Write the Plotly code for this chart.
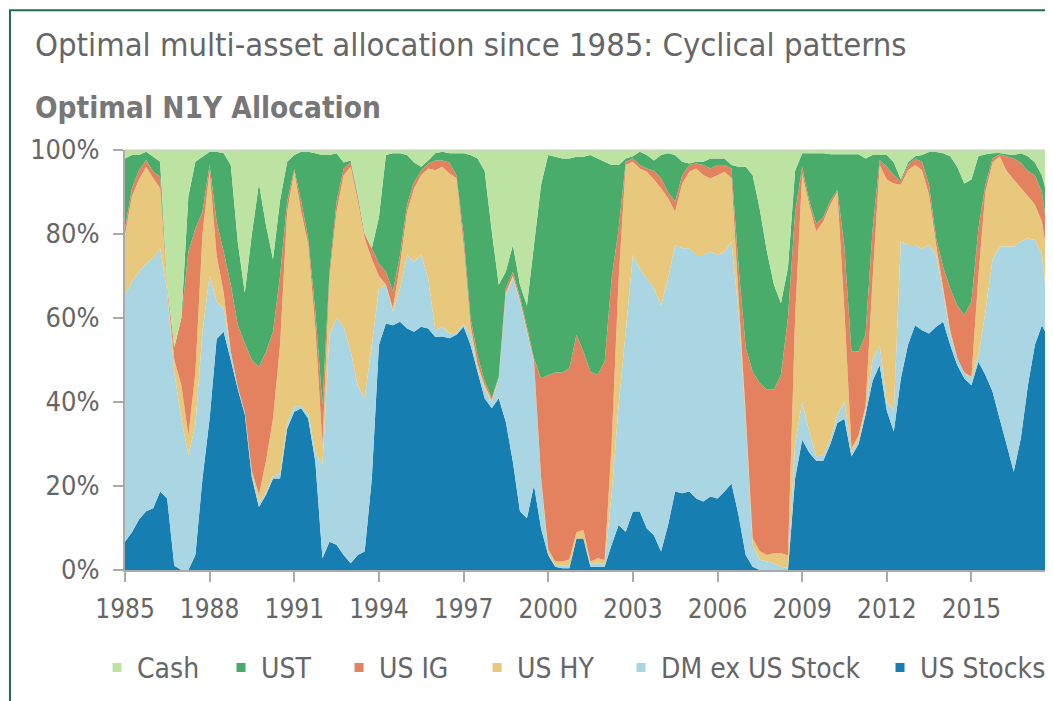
import plotly.graph_objects as go
import pandas as pd

# Quarterly grid 1985Q1 .. 2017Q4
dates = pd.date_range("1985-01-01", "2017-10-01", freq="QS")

tick_years = [1985, 1988, 1991, 1994, 1997, 2000, 2003, 2006, 2009, 2012, 2015]
y_ticks = [0, 20, 40, 60, 80, 100]

# Cumulative tops (percent), bottom layer first
us_stocks_top = [
    6.7, 9, 12, 14,
    14.7, 18.7, 17, 1,
    0, 0, 3.6, 21.8,
    36, 55, 56.7, 50,
    43, 37, 22, 15,
    17.9, 21.8, 21.8, 33.7,
    37.7, 38.5, 36, 25.8,
    2.8, 6.7, 6, 3.6,
    1.6, 3.6, 4.4, 21.8,
    53.6, 58.7, 58.3, 59.1,
    57.5, 56.7, 57.9, 57.5,
    55.5, 55.6, 55.2, 56,
    57.9, 53.6, 47.2, 40.9,
    38.5, 40.9, 35.3, 25.8,
    13.9, 12.3, 20.2, 9.9,
    3.6, 0.8, 0.4, 0.4,
    7.5, 7.5, 0.8, 0.8,
    0.8, 6, 10.7, 9.1,
    13.9, 13.9, 9.9, 8.3,
    4.4, 10.7, 18.7, 18.3,
    18.7, 17, 16.3, 17.5,
    17, 18.7, 20.6, 13,
    3.6, 0.8, 0, 0,
    0, 0, 0, 21.8,
    31, 28, 26, 26,
    30, 35, 36, 27,
    30, 37, 45, 48.8,
    38, 33, 45.6, 53.6,
    58.3, 57.1, 56.3, 57.9,
    59.1, 53.6, 48.8, 45.6,
    44, 49.6, 46.4, 42.5,
    36, 29.8, 23.4, 31.3,
    44, 53.6, 58.3, 55,
]
dm_top = [
    65.5, 68.7, 71, 73,
    74.2, 76.6, 66.3, 47,
    36, 27.4, 34.5, 56.7,
    70.2, 63.9, 62.3, 52,
    43.5, 37.5, 23, 16,
    18.5, 22.5, 23, 35,
    39, 39, 37, 28,
    25, 56, 60, 58,
    52, 44, 40.9, 53.6,
    67, 67.9, 61.5, 67,
    75, 73.4, 75, 69.4,
    57, 58, 56.3, 56.5,
    58.5, 56, 48, 43,
    40, 45.6, 65.5, 69.4,
    63.9, 56.7, 49.6, 21.8,
    4, 1, 1, 1,
    7.5, 7.5, 1.5, 1.5,
    1.5, 17.9, 39.3, 56.7,
    75, 71.7, 69.4, 67,
    63, 69.4, 77.4, 76.6,
    76.6, 75, 75, 75.8,
    75, 75.8, 78.2, 61,
    36, 6, 2.5, 2,
    1.6, 0.8, 0.5, 30,
    40, 33, 27, 27.4,
    31, 37, 40, 28,
    31, 38, 50, 53.6,
    40, 38, 78.2, 77.4,
    77.4, 76.5, 77.4, 75,
    66, 56, 50.5, 47,
    45.5, 51, 61.5, 73.9,
    77, 77, 77, 78.2,
    79, 78.6, 75, 60,
]
us_hy_top = [
    79.8, 89, 92.9, 96,
    93.3, 90.9, 67, 50,
    44, 32, 47, 80,
    95, 75, 66, 52,
    43.5, 37.5, 23.5, 18,
    26, 36, 53.6, 85.3,
    94.8, 85.3, 77.4, 57.5,
    29.8, 69.4, 85.3, 94,
    96, 88, 79, 74,
    70, 68, 62.3, 72.6,
    85.3, 90.9, 94, 95.6,
    95.2, 96, 94.4, 93.3,
    77.4, 58.3, 49, 44,
    40.5, 45.8, 66, 70,
    64.2, 57, 49.8, 22,
    5, 2, 2, 2.5,
    9, 9.5, 2, 2.8,
    2.4, 29.8, 69.4, 96.4,
    97.2, 95.6, 94.8, 93,
    90.9, 88.5, 85.3, 92,
    94.8, 95.6, 94, 93.3,
    94, 94.8, 93.3, 65,
    37, 7.5, 4.5, 3.6,
    4, 4, 3.5, 60,
    94.4, 87, 80.6, 83,
    87, 90, 62, 29,
    32, 39, 69, 96.4,
    93, 92, 91.7, 95.2,
    96.4, 95.2, 89.3, 77.4,
    67, 57, 50.5, 47,
    46, 70, 90, 97,
    98.5, 95, 93, 91,
    89, 87, 83, 72,
]
us_ig_top = [
    81.3, 90.9, 95.2, 97.6,
    94.8, 93.7, 67.9, 53,
    60, 75.8, 81.3, 85.3,
    96.5, 83, 75.8, 67.9,
    58.3, 54, 50, 48.4,
    52, 56.7, 70, 87.7,
    95.5, 87.7, 79, 61.5,
    39.3, 71, 87.7, 95.6,
    97, 89, 80, 76.6,
    73, 71, 66.3, 75,
    87, 92.4, 95, 96.8,
    97.5, 97.5, 97, 94,
    79.8, 60, 51, 45,
    41, 46, 67, 71,
    65, 58, 50.4, 45.6,
    46.4, 47, 47, 48,
    56, 52, 47.2, 46.4,
    49.6, 69.4, 81.3, 97.2,
    98, 96.4, 95.6, 95,
    93.3, 90, 87.7, 94,
    96.4, 96.8, 96.4, 95.6,
    96.4, 96.4, 95.6, 72,
    53, 47.2, 44.5, 43,
    43, 46.5, 60, 85,
    96, 88, 82.5, 84,
    88, 90.5, 77, 52,
    52, 56, 81, 97.6,
    96, 94, 92.5, 96.4,
    98, 97.2, 91.7, 79,
    72, 67, 63, 60.7,
    63.9, 81.3, 91.7, 98,
    99, 98.5, 98, 97,
    95, 94, 90, 78,
]
ust_top = [
    98, 98.8, 98.8, 99.6,
    98.4, 97.2, 67.9, 53,
    60, 89, 97.2, 98.4,
    99.6, 99.6, 99.2, 96.4,
    78, 66, 80, 92,
    82, 74, 88, 97.2,
    98.8, 99.6, 99.6, 99.2,
    98.8, 98.8, 99.2, 97,
    97.5, 89.5, 80, 76.6,
    84, 98.8, 99.2, 99.2,
    98.8, 97, 96, 97.5,
    99.2, 99.6, 99.2, 99.2,
    99.2, 98.8, 98, 95,
    80.6, 68, 71, 77.4,
    67.9, 63, 77.4, 91.7,
    98.8, 98.4, 98, 98,
    98.4, 98.4, 98.8, 98,
    97.2, 96.4, 96.4, 98,
    98.5, 99.6, 98.8, 97.5,
    98.8, 99.2, 98.8, 97.2,
    96.8, 97.2, 97.2, 98,
    98, 98, 96.4, 96,
    96, 94, 86, 76,
    68, 63.5, 72, 95,
    99.2, 99.2, 99.2, 99.2,
    99, 99, 99, 99,
    99, 98, 98.8, 98.8,
    98.8, 97, 93, 97,
    98.5, 98.8, 99.5, 99.5,
    99.2, 98.5, 96, 92,
    93, 98.5, 99, 99.2,
    99.3, 99, 98.8, 99.2,
    98.5, 97, 94, 87.5,
]
cash_top = [100] * len(dates)

# bottom layer first
series = [
    ("US Stocks", us_stocks_top, "#167eb1"),
    ("DM ex US Stock", dm_top, "#a9d6e2"),
    ("US HY", us_hy_top, "#e8c87d"),
    ("US IG", us_ig_top, "#e4825f"),
    ("UST", ust_top, "#4aac6a"),
    ("Cash", cash_top, "#bde3a2"),
]

FONT = "DejaVu Sans Condensed, Liberation Sans Narrow, sans-serif"

# one legend box per key, left-to-right: Cash ... US Stocks
legend_names = ["legend", "legend2", "legend3", "legend4", "legend5", "legend6"]
legend_x = [-0.0303, 0.1039, 0.2316, 0.3810, 0.5368, 0.8171]

fig = go.Figure()
# Square legend keys (no data), linked to the areas via legendgroup
for (name, _, color), lg in zip(reversed(series), legend_names):
    fig.add_trace(go.Scatter(
        x=[None], y=[None], name=name, mode="markers",
        marker=dict(symbol="square", size=9, color=color),
        legendgroup=name, legend=lg, showlegend=True, hoverinfo="skip",
    ))
# Filled areas between cumulative tops
for i, (name, vals, color) in enumerate(series):
    fig.add_trace(go.Scatter(
        x=dates, y=vals, name=name, mode="none",
        fill="tozeroy" if i == 0 else "tonexty",
        fillcolor=color, hoverinfo="x+y+name",
        legendgroup=name, showlegend=False,
    ))

legend_layout = {
    lg: dict(orientation="h", x=lx, xanchor="left", y=-0.233, yanchor="middle",
             font=dict(size=28, color="#666666", family=FONT),
             bgcolor="rgba(0,0,0,0)", itemwidth=30)
    for lg, lx in zip(legend_names, legend_x)
}

# Page has an 8px body margin: figure is drawn at (8, 8)
fig.update_layout(
    width=1045, height=693,
    margin=dict(l=117, r=4, t=142, b=131, autoexpand=False),
    paper_bgcolor="white", plot_bgcolor="white",
    font=dict(family=FONT, color="#666666", size=26),
    showlegend=True,
    xaxis=dict(
        type="date", range=[dates[0], dates[-1]],
        tickvals=[pd.Timestamp(f"{y}-01-01") for y in tick_years],
        ticktext=[str(y) for y in tick_years],
        ticks="outside", ticklen=10, tickwidth=2, tickcolor="#aaaaaa",
        showline=True, linecolor="#aaaaaa", linewidth=2,
        showgrid=False, zeroline=False, ticklabelstandoff=5,
        tickfont=dict(size=26, color="#666666"), automargin=False,
    ),
    yaxis=dict(
        range=[0, 100], tickvals=y_ticks, ticktext=[f"{v}%" for v in y_ticks],
        ticks="outside", ticklen=10, tickwidth=2, tickcolor="#aaaaaa",
        showline=True, linecolor="#aaaaaa", linewidth=2,
        showgrid=False, zeroline=False, ticklabelstandoff=8,
        tickfont=dict(size=27, color="#666666"), automargin=False,
    ),
    annotations=[
        dict(text="Optimal multi-asset allocation since 1985: Cyclical patterns",
             xref="paper", yref="paper", x=-0.0996, y=1.25, xanchor="left", yanchor="middle",
             showarrow=False, font=dict(size=32.5, color="#666666", family=FONT)),
        dict(text="<b>Optimal N1Y Allocation</b>",
             xref="paper", yref="paper", x=-0.0996, y=1.1, xanchor="left", yanchor="middle",
             showarrow=False, font=dict(size=29.5, color="#777777", family=FONT)),
    ],
    shapes=[
        dict(type="rect", xref="paper", yref="paper", x0=-0.1245, x1=1.02, y0=-0.33, y1=1.333,
             line=dict(color="#1d6b55", width=2), fillcolor="rgba(0,0,0,0)"),
        dict(type="line", xref="paper", yref="paper", x0=0, x1=1, y0=1, y1=1,
             line=dict(color="#cccccc", width=1)),
    ],
    **legend_layout,
)

fig.write_html("out.html")
